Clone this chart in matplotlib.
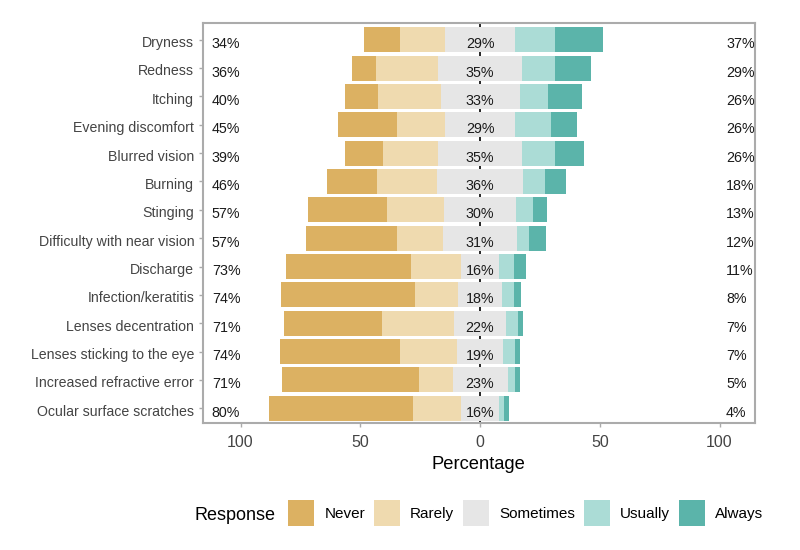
import matplotlib
matplotlib.use("Agg")
import matplotlib.pyplot as plt
from matplotlib.patches import Patch
import numpy as np

plt.rcParams['font.family'] = ['Liberation Sans', 'DejaVu Sans']

items = ["Dryness", "Redness", "Itching", "Evening discomfort", "Blurred vision",
         "Burning", "Stinging", "Difficulty with near vision", "Discharge",
         "Infection/keratitis", "Lenses decentration", "Lenses sticking to the eye",
         "Increased refractive error", "Ocular surface scratches"]
never     = [15, 10, 14, 25, 16, 21, 33, 38, 52, 56, 41, 50, 57, 60]
rarely    = [19, 26, 26, 20, 23, 25, 24, 19, 21, 18, 30, 24, 14, 20]
sometimes = [29, 35, 33, 29, 35, 36, 30, 31, 16, 18, 22, 19, 23, 16]
usually   = [17, 14, 12, 15, 14,  9,  7,  5,  6,  5,  5,  5,  3,  2]
always    = [20, 15, 14, 11, 12,  9,  6,  7,  5,  3,  2,  2,  2,  2]
left_labels   = ["34%", "36%", "40%", "45%", "39%", "46%", "57%", "57%", "73%", "74%", "71%", "74%", "71%", "80%"]
center_labels = ["29%", "35%", "33%", "29%", "35%", "36%", "30%", "31%", "16%", "18%", "22%", "19%", "23%", "16%"]
right_labels  = ["37%", "29%", "26%", "26%", "26%", "18%", "13%", "12%", "11%", "8%", "7%", "7%", "5%", "4%"]
responses = ["Never", "Rarely", "Sometimes", "Usually", "Always"]
colors = ["#DCB162", "#EFDAAF", "#E6E6E6", "#ABDCD6", "#5BB4AA"]
xticks = [-100, -50, 0, 50, 100]

fig = plt.figure(figsize=(8, 5.5), dpi=100)
ax = fig.add_axes([202.7/800, 1-423.3/550, (755-202.7)/800, (423.3-23.3)/550])

y = np.arange(len(items))
N = np.array(never, float); R = np.array(rarely, float); S = np.array(sometimes, float)
U = np.array(usually, float); A = np.array(always, float)
h = 0.88
ax.axvline(0, color='black', lw=1.2, zorder=0.5)
ax.barh(y, N, left=-(N + R + S/2), height=h, color=colors[0], zorder=2)
ax.barh(y, R, left=-(R + S/2), height=h, color=colors[1], zorder=2)
ax.barh(y, S, left=-S/2, height=h, color=colors[2], zorder=2)
ax.barh(y, U, left=S/2, height=h, color=colors[3], zorder=2)
ax.barh(y, A, left=S/2 + U, height=h, color=colors[4], zorder=2)

dy = 0.16
ytrans = ax.get_yaxis_transform()
for i in range(len(items)):
    ax.text(-112, y[i] + dy, left_labels[i], ha='left', va='center', fontsize=10.3, color='#1a1a1a', zorder=3)
    ax.text(0, y[i] + dy, center_labels[i], ha='center', va='center', fontsize=10.3, color='#1a1a1a', zorder=3)
    ax.text(102.7, y[i] + dy, right_labels[i], ha='left', va='center', fontsize=10.3, color='#1a1a1a', zorder=3, clip_on=False)
    ax.text(-8.5/552.3, y[i] + 0.12, items[i], transform=ytrans, ha='right', va='center',
            fontsize=10.2, color='#444444', clip_on=False)

ax.set_xlim(-115.8, 114.8)
ax.set_ylim(13.53, -0.58)
ax.set_yticks(y)
ax.set_yticklabels([])
ax.set_xticks(xticks)
ax.set_xticklabels([str(abs(t)) for t in xticks], fontsize=11.5, color='#444444')
ax.tick_params(axis='both', length=3, color='#AAAAAA', width=1)
ax.tick_params(axis='x', pad=5.5)
for s in ax.spines.values():
    s.set_color('#ABABAB')
    s.set_linewidth(1.5)
ax.set_xlabel("Percentage", fontsize=13.2, color='black', labelpad=4.5)

handles = [Patch(facecolor=c, edgecolor='none') for c in colors]
fig.legend(handles, responses, ncol=5, loc='center left', bbox_to_anchor=(288/800, 1-513/550),
           frameon=False, fontsize=11, handlelength=1.7, handleheight=2.25,
           handletextpad=0.68, columnspacing=0.57, borderpad=0, borderaxespad=0)
fig.text(195/800, 1-516/550, "Response", fontsize=13, va='center', ha='left', color='black')

fig.savefig("out.png", dpi=100)
